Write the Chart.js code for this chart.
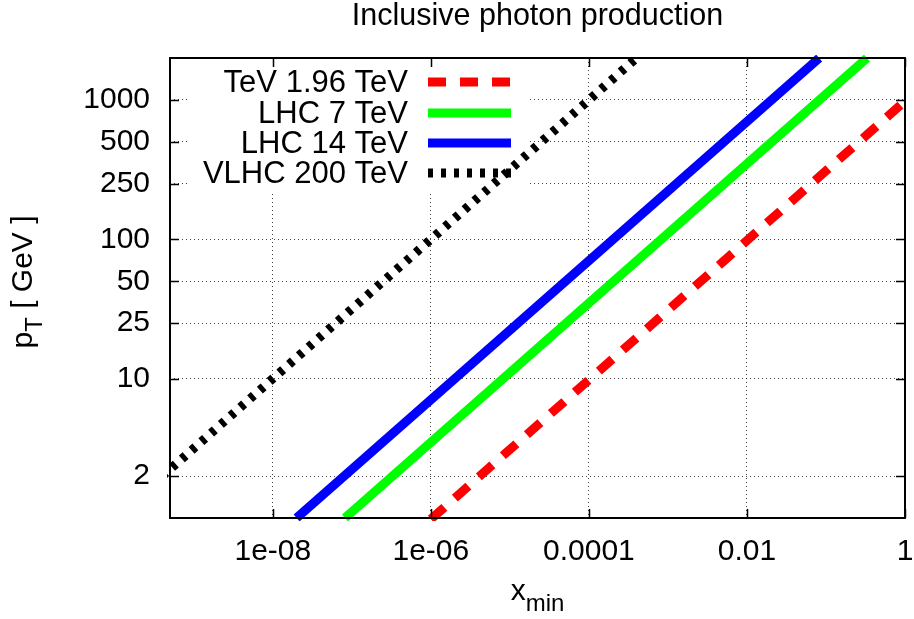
<!DOCTYPE html>
<html><head><meta charset="utf-8">
<script src="https://cdn.jsdelivr.net/npm/chart.js@4.4.1/dist/chart.umd.min.js"></script>
<style>html,body{margin:0;padding:0;background:#fff;}#wrap{width:914px;height:619px;}</style>
</head><body><div id="wrap"><canvas id="c" width="914" height="619"></canvas></div>
<script>
// ---- data ----
const seriesLabels = ['TeV 1.96 TeV', 'LHC 7 TeV', 'LHC 14 TeV', 'VLHC 200 TeV'];
const tevX = [1e-6, 1];          const tevY = [0.98, 980];
const lhc7X = [8.2e-8, 0.33];    const lhc7Y = [1, 2000];
const lhc14X = [2.0e-8, 0.082];  const lhc14Y = [1, 2000];
const vlhcX = [4e-10, 4e-4];     const vlhcY = [2, 2000];
const xTicks = [1e-8, 1e-6, 1e-4, 1e-2, 1];
const xTickLabels = ['1e-08', '1e-06', '0.0001', '0.01', '1'];
const yTicks = [2, 10, 25, 50, 100, 250, 500, 1000];
const yTickLabels = ['2', '10', '25', '50', '100', '250', '500', '1000'];
const xMin = 5e-10, xMax = 1, yMin = 1, yMax = 2000;
const titleText = 'Inclusive photon production';

const FONT = '"Liberation Sans", Arial, Helvetica, sans-serif';
const FS = 30;
const pts = (xs, ys) => xs.map((x, i) => ({x: x, y: ys[i]}));

const styles = [
  {color: '#ff0000', dash: [18, 14]},
  {color: '#00ff00', dash: []},
  {color: '#0000ff', dash: []},
  {color: '#000000', dash: [5, 8]}
];
const seriesData = [pts(tevX, tevY), pts(lhc7X, lhc7Y), pts(lhc14X, lhc14Y), pts(vlhcX, vlhcY)];

const LW = 9;
const datasets = seriesData.map((d, i) => ({
  label: seriesLabels[i],
  data: d,
  borderColor: styles[i].color,
  backgroundColor: styles[i].color,
  borderWidth: LW,
  borderDash: styles[i].dash,
  borderCapStyle: 'butt',
  pointRadius: 0,
  tension: 0,
  fill: false,
  clip: 3
}));

const legendBox = {x0: 187, y0: 58, x1: 527, y1: 190};
const legendRows = [92, 123, 153, 183];

const decor = {
  id: 'decor',
  beforeDatasetsDraw(chart) {
    const c = chart.ctx;
    c.save();
    c.fillStyle = '#fff';
    c.fillRect(legendBox.x0, legendBox.y0 + 1, legendBox.x1 - legendBox.x0, legendBox.y1 - legendBox.y0);
    c.restore();
  },
  afterDatasetsDraw(chart) {
    const c = chart.ctx;
    const a = chart.chartArea;
    const xs = chart.scales.x, ys = chart.scales.y;
    c.save();
    // inward ticks
    c.strokeStyle = '#000';
    c.lineWidth = 1.5;
    c.setLineDash([]);
    const TL = 9;
    c.beginPath();
    yTicks.forEach(v => {
      const y = Math.round(ys.getPixelForValue(v)) + 0.5;
      c.moveTo(a.left, y); c.lineTo(a.left + TL, y);
      c.moveTo(a.right, y); c.lineTo(a.right - TL, y);
    });
    xTicks.forEach(v => {
      const x = Math.round(xs.getPixelForValue(v)) + 0.5;
      c.moveTo(x, a.bottom); c.lineTo(x, a.bottom - TL);
      c.moveTo(x, a.top); c.lineTo(x, a.top + TL);
    });
    c.stroke();
    // frame
    c.lineWidth = 2;
    c.strokeRect(a.left, a.top, a.right - a.left, a.bottom - a.top);

    // legend
    c.font = '31px ' + FONT;
    c.fillStyle = '#000';
    c.textAlign = 'right';
    c.textBaseline = 'alphabetic';
    chart.data.datasets.forEach((ds, i) => {
      const by = legendRows[i];
      c.fillText(ds.label, 408, by);
      c.strokeStyle = ds.borderColor;
      c.lineWidth = LW;
      c.lineCap = 'butt';
      c.setLineDash(ds.borderDash);
      c.beginPath();
      c.moveTo(428, by - 10);
      c.lineTo(511, by - 10);
      c.stroke();
    });
    c.setLineDash([]);

    // title
    c.fillStyle = '#000';
    c.textAlign = 'center';
    c.font = '30.5px ' + FONT;
    c.fillText(titleText, 537.5, 25);

    // x axis title with subscript
    const xMain = 'x', xSub = 'min';
    c.font = FS + 'px ' + FONT;
    const wMain = c.measureText(xMain).width;
    c.font = '24px ' + FONT;
    const wSub = c.measureText(xSub).width;
    const cx = (a.left + a.right) / 2;
    let sx = cx - (wMain + wSub) / 2;
    c.textAlign = 'left';
    c.font = FS + 'px ' + FONT;
    c.fillText(xMain, sx, 600);
    c.font = '24px ' + FONT;
    c.fillText(xSub, sx + wMain, 611);

    // y axis title rotated with subscript
    c.translate(32, 282);
    c.rotate(-Math.PI / 2);
    const p1 = 'p', p2 = 'T', p3 = ' [ GeV ]';
    c.font = FS + 'px ' + FONT;
    const w1 = c.measureText(p1).width, w3 = c.measureText(p3).width;
    c.font = '24px ' + FONT;
    const w2 = c.measureText(p2).width;
    let tx = -(w1 + w2 + w3) / 2;
    c.font = FS + 'px ' + FONT;
    c.fillText(p1, tx, 0);
    c.font = '24px ' + FONT;
    c.fillText(p2, tx + w1, 10);
    c.font = FS + 'px ' + FONT;
    c.fillText(p3, tx + w1 + w2, 0);
    c.restore();
  }
};

new Chart(document.getElementById('c'), {
  type: 'line',
  data: {datasets: datasets},
  options: {
    responsive: false,
    animation: false,
    devicePixelRatio: 1,
    layout: {padding: {top: 58, right: 9, left: 0, bottom: 0}},
    plugins: {legend: {display: false}, title: {display: false}, tooltip: {enabled: false}},
    scales: {
      x: {
        type: 'logarithmic',
        min: xMin, max: xMax,
        afterBuildTicks: s => { s.ticks = xTicks.map(v => ({value: v})); },
        afterFit: s => { s.height = 101; s.paddingLeft = 0; s.paddingRight = 0; },
        ticks: {
          autoSkip: false, maxRotation: 0, minRotation: 0,
          padding: 16, color: '#000',
          font: {family: FONT, size: FS},
          callback: (v, i) => xTickLabels[i]
        },
        grid: {color: 'rgba(0,0,0,0.75)', lineWidth: 1, drawTicks: false},
        border: {display: false, dash: [1, 3]}
      },
      y: {
        type: 'logarithmic',
        min: yMin, max: yMax,
        afterBuildTicks: s => { s.ticks = yTicks.map(v => ({value: v})); },
        afterFit: s => { s.width = 170; s.paddingTop = 0; s.paddingBottom = 0; },
        ticks: {
          autoSkip: false, padding: 20, color: '#000',
          font: {family: FONT, size: FS},
          callback: (v, i) => yTickLabels[i]
        },
        grid: {color: 'rgba(0,0,0,0.75)', lineWidth: 1, drawTicks: false},
        border: {display: false, dash: [1, 3]}
      }
    }
  },
  plugins: [decor]
});
</script>
</body></html>
